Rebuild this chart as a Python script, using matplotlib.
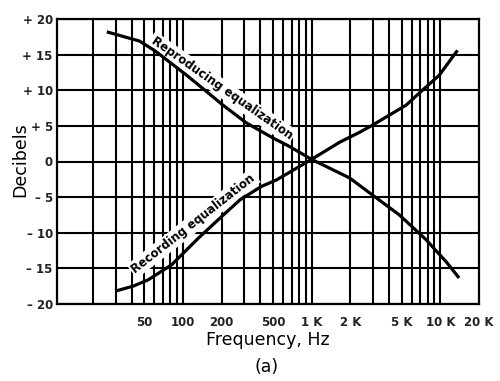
import matplotlib
matplotlib.use("Agg")
import matplotlib.pyplot as plt

# Data
repro_freq = [25.6, 46, 61, 75, 107, 153, 205, 312, 501, 675, 1000, 1970, 2970, 4810, 7780, 11150, 14000]
repro_db = [18.2, 16.9, 15.5, 14.25, 12.1, 9.8, 7.9, 5.4, 3.3, 2.1, 0.3, -2.3, -4.7, -7.5, -11.0, -14.1, -16.35]

rec_freq = [29.7, 41, 53.8, 81.7, 131, 212, 277, 407, 532, 1000, 1650, 2360, 2970, 5420, 7260, 9810, 13600]
rec_db = [-18.2, -17.5, -16.6, -14.5, -10.8, -7.3, -5.4, -3.5, -2.6, 0.3, 2.7, 4.1, 5.1, 7.9, 10.0, 12.1, 15.6]

x_ticks = [50, 100, 200, 500, 1000, 2000, 5000, 10000, 20000]
x_labels = ["50", "100", "200", "500", "1 K", "2 K", "5 K", "10 K", "20 K"]
y_ticks = [20, 15, 10, 5, 0, -5, -10, -15, -20]
y_labels = ["+ 20", "+ 15", "+ 10", "+ 5", "0", "\u2013 5", "\u2013 10", "\u2013 15", "\u2013 20"]
grid_freqs = [20, 30, 40, 50, 60, 70, 80, 90,
              100, 200, 300, 400, 500, 600, 700, 800, 900,
              1000, 2000, 3000, 4000, 5000, 6000, 7000, 8000, 9000, 10000]

fig = plt.figure(figsize=(5.0, 3.81), dpi=100)
ax = fig.add_axes([57/500, 1-304/381, (479-57)/500, (304-19)/381])
ax.set_xscale("log")
ax.set_xlim(10.5, 20000)
ax.set_ylim(-20, 20)

for f in grid_freqs:
    ax.axvline(f, color="black", lw=1.5, zorder=1)
for y in y_ticks:
    ax.axhline(y, color="black", lw=1.5, zorder=1)

for s in ax.spines.values():
    s.set_linewidth(1.6)

ax.plot(repro_freq, repro_db, color="black", lw=2.3, zorder=3, solid_capstyle="butt")
ax.plot(rec_freq, rec_db, color="black", lw=2.3, zorder=3, solid_capstyle="butt")

ax.set_xticks(x_ticks)
ax.set_xticklabels(x_labels, fontsize=8.5, fontweight="bold", color="#222222")
ax.xaxis.set_minor_locator(matplotlib.ticker.NullLocator())
ax.set_yticks(y_ticks)
ax.set_yticklabels(y_labels, fontsize=8.5, fontweight="bold", color="#222222")
ax.tick_params(axis="both", length=0)
ax.tick_params(axis="x", pad=9)
ax.tick_params(axis="y", pad=3)

box = dict(facecolor="white", edgecolor="none", pad=1.5)
ax.text(200, 10.3, "Reproducing equalization", rotation=-35, rotation_mode="anchor",
        ha="center", va="center", fontsize=8.5, fontweight="bold", bbox=box, zorder=2)
ax.text(121, -8.7, "Recording equalization", rotation=38, rotation_mode="anchor",
        ha="center", va="center", fontsize=8.5, fontweight="bold", bbox=box, zorder=2)

fig.text(20/500, 1-160/381, "Decibels", rotation=90, ha="center", va="center", fontsize=12.5)
fig.text(268/500, 1-340/381, "Frequency, Hz", ha="center", va="center", fontsize=12.5)
fig.text(267/500, 1-367/381, "(a)", ha="center", va="center", fontsize=12.5)

fig.savefig("out.png", dpi=100, facecolor="white")
